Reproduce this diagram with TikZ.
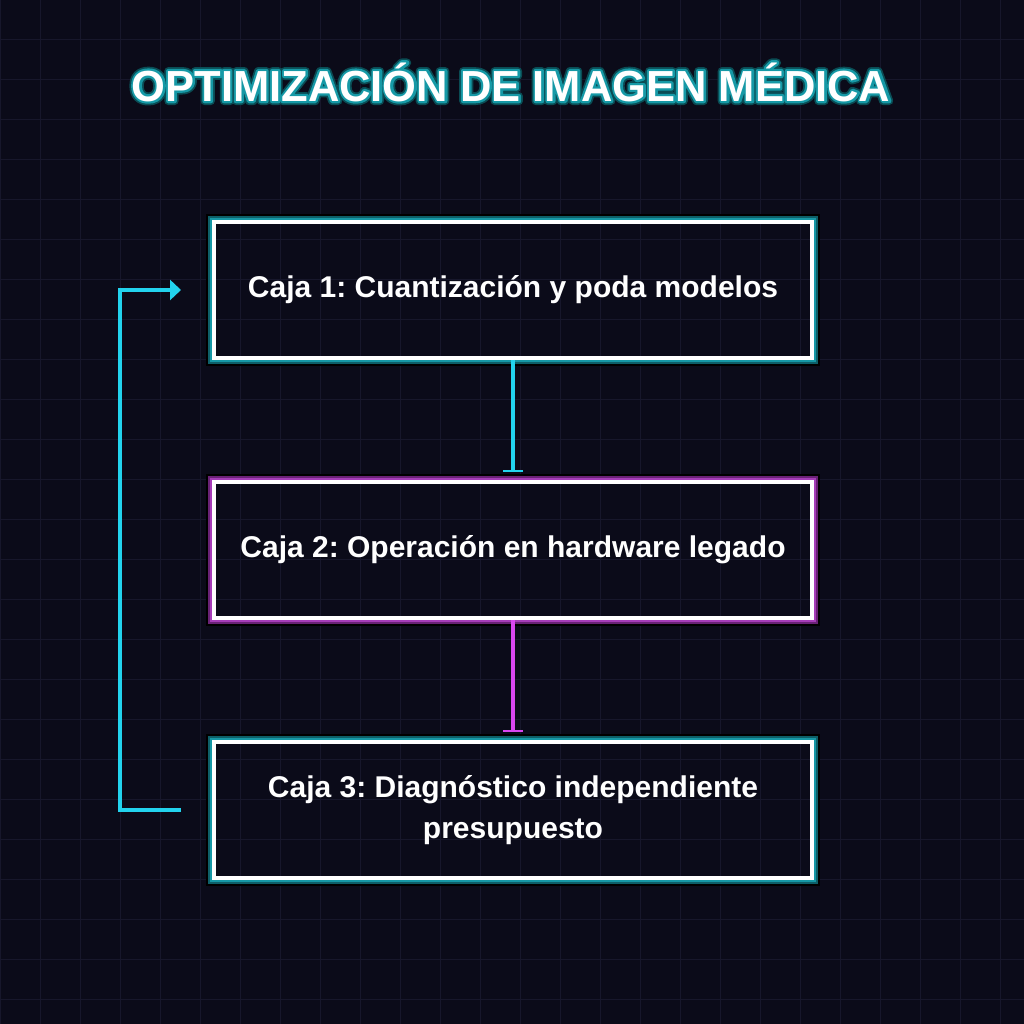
\documentclass[tikz,border=0pt]{standalone}
\usepackage{fontspec}
\setmainfont{Liberation Sans}
\frenchspacing
\usetikzlibrary{arrows.meta,calc}
\definecolor{bgcol}{HTML}{0B0B19}
\definecolor{gridcol}{HTML}{17172B}
\definecolor{cyanc}{HTML}{22D3EE}
\definecolor{tealmid}{HTML}{1698A6}
\definecolor{tealdark}{HTML}{0E5F68}
\definecolor{purmid}{HTML}{A63DB8}
\definecolor{purdark}{HTML}{6A2276}
\definecolor{magc}{HTML}{D946EF}
\definecolor{titleouter}{HTML}{0A4C55}
\definecolor{titlemid}{HTML}{169AA6}
\newcommand\glowfor[3]{%
  \draw[black, line width=6pt] ([shift={(-5pt,-5pt)}]#1.south west) rectangle ([shift={(5pt,5pt)}]#1.north east);
  \draw[#3, line width=4pt] ([shift={(-4pt,-4pt)}]#1.south west) rectangle ([shift={(4pt,4pt)}]#1.north east);
  \draw[#2, line width=2pt] ([shift={(-3pt,-3pt)}]#1.south west) rectangle ([shift={(3pt,3pt)}]#1.north east);
}
% stroked text: #1 = stroke width, #2 = r g b, #3 = text
\newcommand\strokedtext[3]{\special{pdf:literal direct 2 Tr #1 w 1 j #2 RG}#3\special{pdf:literal direct 0 Tr}}
\newcommand\mytitletext{OPTIMIZACIÓN DE IMAGEN MÉDICA}
\begin{document}
\begin{tikzpicture}[x=1pt,y=1pt,
  flowbox/.style={draw=white, line width=4pt, outer sep=0pt, minimum width=598pt, minimum height=136pt,
    inner sep=0pt, text=white, align=center, font=\bfseries\fontsize{30}{41}\selectfont},
  titlefont/.style={font=\bfseries\fontsize{43.5}{46}\selectfont, inner sep=0pt},
  cyanline/.style={draw=cyanc, line width=4pt},
  magline/.style={draw=magc, line width=4pt}]
\fill[bgcol] (0,0) rectangle (1024,1024);
\useasboundingbox (0,0) rectangle (1024,1024);
\begin{scope}
\clip (0,0) rectangle (1024,1024);
\draw[gridcol, line width=1pt, shift={(0,24)}] (0,-40) grid[step=40] (1024,1000);
\end{scope}
% title with outline
\node[titlefont, text=titleouter] (titleglow) at (511,942) {\strokedtext{8}{0.04 0.30 0.33}{\mytitletext}};
\node[titlefont, text=titlemid] (titleline) at (511,942) {\strokedtext{4.5}{0.086 0.60 0.65}{\mytitletext}};
\node[titlefont, text=white] (title) at (511,942) {\mytitletext};
% boxes
\node[flowbox] (b1) at (513,734) {Caja 1: Cuantización y poda modelos};
\node[flowbox] (b2) at (513,474) {Caja 2: Operación en hardware legado};
\node[flowbox] (b3) at (513,214) {Caja 3: Diagnóstico independiente\\presupuesto};
\glowfor{b1}{tealmid}{tealdark}
\glowfor{b2}{purmid}{purdark}
\glowfor{b3}{tealmid}{tealdark}
% arrows
\coordinate (a1s) at ([yshift=-2pt]b1.south);
\coordinate (a1e) at ([yshift=10pt]b2.north);
\draw[cyanline, -{Bar[width=20pt,line width=2pt]}] (a1s) -- (a1e);
\coordinate (a2s) at ([yshift=-2pt]b2.south);
\coordinate (a2e) at ([yshift=10pt]b3.north);
\draw[magline, -{Bar[width=20pt,line width=2pt]}] (a2s) -- (a2e);
% feedback
\coordinate (fb1) at ([xshift=-33pt]b3.west);
\coordinate (fb2) at ([xshift=-33pt]b1.west);
\draw[cyanline, line join=miter, -{Triangle[width=20pt,length=11pt]}] (fb1) -- ++(-61pt,0) |- (fb2);
\end{tikzpicture}
\end{document}
